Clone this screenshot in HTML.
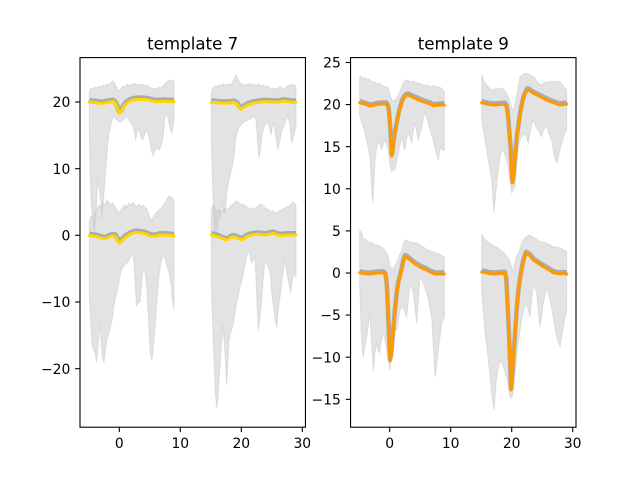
<!DOCTYPE html>
<html><head><meta charset="utf-8"><style>
html,body{margin:0;padding:0;background:#fff;}
svg{display:block;}
text{font-family:"DejaVu Sans","Liberation Sans",sans-serif;fill:#000;}
.lb{fill:#c8c8c8;fill-opacity:0.5;stroke:#c8c8c8;stroke-opacity:0.5;stroke-width:1;stroke-linejoin:round;}
.db{fill:none;stroke:#aaaaaa;stroke-width:5;stroke-linejoin:round;stroke-linecap:butt;}
.my{fill:none;stroke:#ffd700;stroke-width:3;stroke-linejoin:round;stroke-linecap:round;}
.mo{fill:none;stroke:#ff9900;stroke-width:3;stroke-linejoin:round;stroke-linecap:round;}
.tk{stroke:#000;stroke-width:1.1;}
.yt{font-size:13.9px;text-anchor:end;}
.xt{font-size:13.9px;text-anchor:middle;}
.ti{font-size:16.67px;text-anchor:middle;}
</style></head><body>
<svg width="640" height="480" viewBox="0 0 640 480" xmlns="http://www.w3.org/2000/svg">
<rect width="640" height="480" fill="#fff"/>

<!-- LEFT PLOT: template 7 -->
<polygon class="lb" points="89.3,92 91,88 93,89 95,87 97,88 99,86 101,87 103,85 105,86 107,84 109,85 111,83 113,81 115,84 117,88 119,91 121,88 123,86 125,87 127,84 129,86 131,84 133,85 135,83 137,85 139,84 141,86 143,84 145,86 147,85 149,87 151,88 153,89 155,88 157,89 159,87 161,88 163,86 165,84 167,82 169,80 171,81 173,80 174,82 174,120 172,133 170,128 168,118 166.5,113 165,118 163,138 161,146 159,150 157,148 155,150 153,156 151,148 149,137 147,130 145,133 143,140 141,137 139,128 137,133 135.5,140 134,130 132,124 130,122 128,118 126,117 124,119 122,121 120,122 118,121 116,119 114,116 112,120 110,128 108,140 106.5,160 105,180 103.5,200 102,218 101,205 99.5,190 98,178 97,195 96,215 94.5,232 93,225 92,215 91,200 90,165 89.3,130"/>
<polygon class="lb" points="89.3,221 91,216 93,218 95,212 97,210 99,205 101,207 103,203 105,205 107,200 109,203 111,205 113,203 115,207 117,210 119,213 121,210 123,207 125,205 127,207 129,203 131,205 133,202 135,205 137,207 139,204 141,207 143,205 145,208 147,209 149,215 151,221 153,218 155,214 157,212 159,210 161,208 163,206 165,203 167,199 169,196 171,197 173,199 174,203 174,310 172.5,300 171,285 169,272 167,266 165,258 163,255 161,262 159,275 157,300 155.5,320 154,340 152,360 150.5,355 149,330 147,290 145,272 143,270 141.5,285 140,302 138,303 136.5,306 135,280 133.5,255 132,256 130,258 128,262 126,263 124,266 122,268 120,276 118,288 116,295 114,305 112,320 110,328 108.5,336 107,338 105.5,350 104,362 102.5,358 101,340 99.5,322 98,345 96.5,362 95,352 93.5,350 92,345 90.5,320 89.3,296"/>
<polygon class="lb" points="211.3,92 213,88 215,86 217,87 219,85 221,86 223,84 225,85 227,84 229,85 231,84 233,82 235,77 236.5,75 238,79 240,83 242,84 244,86 246,84 248,85 250,83 252,85 254,84 256,86 258,84 260,85 262,86 264,85 266,87 268,86 270,88 272,89 274,88 276,89 278,88 280,87 282,88 284,89 286,87 288,86 290,85 292,84 294,85 296,86 296,128 295,130 293,138 291.5,143 290,125 288,116 286,120 284,126 282,130 280,140 278,150 276,138 274,123 272.5,126 271,135 269.5,128 268,121 266,124 264,127 262,135 260.5,150 259,158 257.5,140 256,120 254,116 252,118 250,119 248,120 246,121 244,122 242,124 240,126 238,130 236,137 234,155 232,168 230,175 228,185 226.5,195 225,213 223.5,212 222,200 220.5,220 219,205 217.5,235 216,218 215,240 214,225 212.5,180 211.3,140"/>
<polygon class="lb" points="211.3,210 213,205 215,208 217,212 219,210 221,212 223,210 225,208 227,210 229,208 231,206 233,204 235,202 237,201 239,203 241,205 243,204 245,206 247,207 249,209 251,208 253,210 255,208 257,207 259,205 261,204 263,206 265,208 267,209 269,210 271,212 273,211 275,213 277,213 279,211 281,210 283,209 285,208 287,207 289,206 291,204 293,202 294.5,203 296,206 296,277 294.5,275 293.3,273 292,283 290.7,292 289.5,286 288.3,280 286.5,270 285,260 284,265 282,280 280,297 278,312 276.7,327 275,318 273.5,307 272,295 270.5,275 269,268 267,265 265,260 263,280 261.7,300 260,318 258.3,330 256.5,290 255,257 253.5,260 251.7,263 250,255 248.5,250 247,255 245,265 243.5,273 242,280 240,287 238.5,294 236.7,303 235,312 233.5,323 232,328 230.5,333 229,340 228,360 226.7,385 225.5,360 224.5,345 223,325 221.5,345 220,365 219,380 218,397 216.7,408 215.5,395 214,360 212.5,320 211.3,280"/>

<g transform="translate(0,-1.5)">
<polyline class="db" points="89.3,102 92,102.5 95,102.3 98,103 101,103.5 104,103.3 107,102.5 110,102 113,101.5 115,103 117,107 118.5,111.5 119.5,113.5 121,112 123,108 125,105 127,103 130,101 133,100 136,99.5 140,99.3 144,99.5 148,100 152,101 156,101.7 160,101.5 164,101.3 168,101.7 171,101.5 174,101.7"/>
<polyline class="db" points="89.3,235.5 92,236 95,236.5 98,237 101,238 104,239 106,238.5 109,237 112,236 115,236 117,239 118.5,242 119.5,243.3 121,242 123,239.5 126,237 129,235 132,233.5 135,232.5 138,232.5 141,233 144,233.5 147,234.5 150,236 153,236.5 156,236 160,235 164,235 168,235.3 171,235.5 174,236"/>
<polyline class="db" points="211.3,102.3 215,102.5 220,103 225,103.3 230,103 234,102.5 237,104 239,107.5 240.5,109.3 242,108.5 245,106.5 249,104.5 253,103.3 258,102.3 263,101.7 268,101.7 272,102 276,102.3 280,102 283,101 286,101.5 290,102 293,102.3 296,102.3"/>
<polyline class="db" points="211.3,235 214,235.5 217,236.5 220,237.7 223,239 226.7,240 229,239 231,237.5 233.3,236.7 236,237.5 239,239 241.7,240 244,238.5 246.7,236.7 250,235.5 253,234.8 256.7,234.3 260,234.5 263,235 266.7,235 270,234 273.3,233.3 276,234.5 280,235.7 284,235.3 288,235 292,235 296,235"/>
</g>
<polyline class="my" points="89.3,102 92,102.5 95,102.3 98,103 101,103.5 104,103.3 107,102.5 110,102 113,101.5 115,103 117,107 118.5,111.5 119.5,113.5 121,112 123,108 125,105 127,103 130,101 133,100 136,99.5 140,99.3 144,99.5 148,100 152,101 156,101.7 160,101.5 164,101.3 168,101.7 171,101.5 174,101.7"/>
<polyline class="my" points="89.3,235.5 92,236 95,236.5 98,237 101,238 104,239 106,238.5 109,237 112,236 115,236 117,239 118.5,242 119.5,243.3 121,242 123,239.5 126,237 129,235 132,233.5 135,232.5 138,232.5 141,233 144,233.5 147,234.5 150,236 153,236.5 156,236 160,235 164,235 168,235.3 171,235.5 174,236"/>
<polyline class="my" points="211.3,102.3 215,102.5 220,103 225,103.3 230,103 234,102.5 237,104 239,107.5 240.5,109.3 242,108.5 245,106.5 249,104.5 253,103.3 258,102.3 263,101.7 268,101.7 272,102 276,102.3 280,102 283,101 286,101.5 290,102 293,102.3 296,102.3"/>
<polyline class="my" points="211.3,235 214,235.5 217,236.5 220,237.7 223,239 226.7,240 229,239 231,237.5 233.3,236.7 236,237.5 239,239 241.7,240 244,238.5 246.7,236.7 250,235.5 253,234.8 256.7,234.3 260,234.5 263,235 266.7,235 270,234 273.3,233.3 276,234.5 280,235.7 284,235.3 288,235 292,235 296,235"/>

<rect x="80" y="57.6" width="225.45" height="369.6" fill="none" stroke="#000" stroke-width="1.1"/>
<g class="tk">
<line x1="75.1" y1="102" x2="80" y2="102"/>
<line x1="75.1" y1="168.7" x2="80" y2="168.7"/>
<line x1="75.1" y1="235.3" x2="80" y2="235.3"/>
<line x1="75.1" y1="302" x2="80" y2="302"/>
<line x1="75.1" y1="368.7" x2="80" y2="368.7"/>
<line x1="119.3" y1="427.2" x2="119.3" y2="432.1"/>
<line x1="180.3" y1="427.2" x2="180.3" y2="432.1"/>
<line x1="241.3" y1="427.2" x2="241.3" y2="432.1"/>
<line x1="302.3" y1="427.2" x2="302.3" y2="432.1"/>
</g>
<text class="yt" x="70.3" y="107.1">20</text>
<text class="yt" x="70.3" y="173.8">10</text>
<text class="yt" x="70.3" y="240.4">0</text>
<text class="yt" x="70.3" y="307.1">−10</text>
<text class="yt" x="70.3" y="373.8">−20</text>
<text class="xt" x="119.3" y="448">0</text>
<text class="xt" x="180.3" y="448">10</text>
<text class="xt" x="241.3" y="448">20</text>
<text class="xt" x="302.3" y="448">30</text>
<text class="ti" x="192.7" y="49.3">template 7</text>

<!-- RIGHT PLOT: template 9 -->
<polygon class="lb" points="359.7,77 361,76 363,79 365,78 367,80 369,79 371,81 373,82 375,82 377,84 379,83 381,85 383,86 385,87 387,87 388.5,89 390,95 392,100 394,101 396,99 398,96 400,92 401.5,88 403,83 405,81 407,80 409,81 411,82 413,81 415,82 417,83 419,83 421,84 423,85 425,86 427,85 429,86 431,87 433,86 435,86 437,87 439,87 441,88 443,90 444.3,91 444.3,150 442.3,150 440.7,147 439.5,152 438.3,160 436.7,155 435,148 433.3,140 431.7,135 430,130 428.3,123 426.7,118 425,112 423.3,118 421.7,128 420,133 418.3,140 416.7,132 415,123 413.3,130 411.7,143 410,138 408.3,132 406.7,138 405,150 403.3,145 401.7,137 400,145 398.3,153 396.7,160 395,170 393.3,168 391.7,172 390,165 388.3,150 386.7,145 385,140 383.3,144 381.7,150 380,145 378.3,140 376.7,148 375,160 374,180 372.7,203 371.5,185 370,157 368.3,148 366.7,140 365,133 363.3,127 361.5,122 359.7,115"/>
<polygon class="lb" points="481.7,75 483,79 485,83 487,85 489,88 491,89 493,90 495,89 497,88 499,89 501,88 503,89 505,91 507,94 508.5,97 510,102 511.5,108 513,110 515,104 517,95 518.5,85 520,77 522,75 524,74 526,73 528,74 530,75 532,76 534,77 536,80 538,83 540,85 542,84 544,83 546,82 548,82 550,82 552,81 554,82 556,82 558,81 560,82 562,84 564,87 566.7,90 566.7,130 565,133 563.3,138 561.7,143 560,150 558.3,157 556.7,163 555,158 553.3,150 551.7,140 550,136 548.3,132 546.7,127 545,128 543.3,130 541.7,137 540,134 538.3,130 536.7,128 535,125 533.3,120 531.7,125 530,133 528.3,143 526.7,138 525,133 523.3,135 521.7,137 520,140 518.3,147 516.7,165 515,187 513.3,190 511.7,193 510,180 508.3,167 506.7,160 505,155 503.3,150 501.7,152 500,157 498.3,170 496.7,183 495.3,198 494,213 493,200 491.7,180 490,170 488.3,160 486.7,150 485,140 483,128 481.7,117"/>
<polygon class="lb" points="359.7,230 361.5,233 363.3,240 365,239 367,241 369,243 371,242 373,244 375,245 377,245 379,246 381,247 383,248 385,251 386.7,253 388.3,257 390,265 391.7,270 393.3,268 395,265 396.7,263 398.3,258 400,254 401.7,251 403.3,243 405,241 406.7,240 408.3,241 410,242 412,242 414,243 416.7,243 419,244 421,246 423,247 425,248 427,250 429,250 431,251 433,252 435,253 437,253 439,254 441,255 444.3,257 444.3,317 443,320 441.7,323 440,337 438.3,350 436.7,365 435,377 433.3,345 431.7,317 430,308 428.3,300 426.7,293 425,288 423.3,283 421.7,280 420,277 418.3,300 416.7,323 415,308 413.3,293 411.7,288 410,283 408.3,300 406.7,317 405,312 403.3,306.7 401.7,307 400,310 398.3,320 396.7,330 395,331 393.3,333 391.7,352 390,370 388.3,360 386.7,350 385,340 383.3,333 381,343 379.3,353 378,350 376.7,343 375,352 373.3,370 371.7,345 370,315 368.3,325 366.7,337 365,345 363.3,357 361.7,343 360.7,315 359.7,283"/>
<polygon class="lb" points="481.7,235 484,238 486,241 488,242 490,243.3 492,245 494,246 496,247 498,248 500,250 502,251 504,253 506.7,256.7 508.3,258 510,262 512,268 513.3,272 515,262 517,256 518.5,253 520,250 521.7,243 523.3,240 525,238 527,236 530,235 533,237 536,239 540,241.7 543,242 546,243 550,245 553.3,246.7 556,247 559,248 562,249 564,250 566.7,251.7 566.7,310 565,318 563.3,327 561.7,337 560,347 558.3,342 556.7,337 555,327 553.3,317 551.7,308 550,300 548.3,293 546.7,287 545,295 543.3,303 541.7,315 540,327 538.3,310 536.7,293 535,288 533.3,283 531.7,300 530,317 528.3,310 526.7,303 525,306 523.3,310 521.7,320 520,330 518.3,343 516.7,357 515,373 513.3,392 511.7,398 510,397 508.3,387 506.7,377 505,372 503.3,367 501.7,363 500,360 498.3,368 496.7,377 495.3,392 494,410 492.8,402 491.7,393 490,375 488.3,360 486.7,345 485,333 483.3,312 481.7,290"/>

<g transform="translate(0,-1.5)">
<polyline class="db" style="stroke-width:4.5" points="359.7,102.7 363,103.5 367,105 370,106 373,105.5 377,104.5 380,104.3 384,104 386.5,104 388,107 389,113 390,125 391,143 391.7,156 392.5,152 393.5,143 395,133 396.7,124 398.5,115 400,109 402,102 404,98 406,95.5 408,95 410,96 413,97.3 417,99 420,100.5 423,101.7 427,103 430,104 433,105.7 436,105.5 440,105 444.3,105"/>
<polyline class="db" style="stroke-width:4.5" points="481.7,102.7 485,103.5 489,104.5 493.3,105 497,104.8 501,104.5 505,104.3 506.5,107 507.5,112 508.5,122 509.5,135 510.7,150 511.5,168 512.3,183 513.3,178 514.3,167 515.5,152 516.8,138 518.3,127 520,115 521.7,106 523.3,99 525,94 527.3,90 529.5,90.5 531.5,92 533.3,93.3 537,95 540,96.5 543.3,98.3 547,100 550,101.5 553.3,102.7 557,104 560,105 563,104.5 566.7,104"/>
<polyline class="db" style="stroke-width:4.5" points="359.7,272.7 363,273.5 367,274 370,274 374,273.5 378,273 383.3,272.7 385.5,275 386.7,285 387.5,300 388.3,320 389.2,342 390,361 390.8,358 391.7,350 393.3,330 395,310 396.7,294 398.3,283 400,276.7 402,268 403.5,261 405,256.7 407,257.5 410,260 413,262.5 416.7,265 420,267 423,268.5 426.7,270 430,272 435,274 440,274 444.3,274"/>
<polyline class="db" style="stroke-width:4.5" points="481.7,272 485,272.5 489,273.5 493.3,274 497,273.8 501,273.5 505,273.3 506.3,280 507.3,300 508.3,320 509.3,343 510.2,367 511,390 512,380 513.3,360 515,335 516.7,310 518.3,293 520,280 521.7,270 523.5,261 526,253.3 528.5,254.5 531,257 533.3,260 537,262.5 540,264.5 543.3,266.7 547,268.5 550,270.5 553.3,272.7 557,273.5 560,274 563,273.5 566.7,274"/>
</g>
<polyline class="mo" points="359.7,102.7 363,103.5 367,105 370,106 373,105.5 377,104.5 380,104.3 384,104 386.5,104 388,107 389,113 390,125 391,143 391.7,156 392.5,152 393.5,143 395,133 396.7,124 398.5,115 400,109 402,102 404,98 406,95.5 408,95 410,96 413,97.3 417,99 420,100.5 423,101.7 427,103 430,104 433,105.7 436,105.5 440,105 444.3,105"/>
<polyline class="mo" points="481.7,102.7 485,103.5 489,104.5 493.3,105 497,104.8 501,104.5 505,104.3 506.5,107 507.5,112 508.5,122 509.5,135 510.7,150 511.5,168 512.3,183 513.3,178 514.3,167 515.5,152 516.8,138 518.3,127 520,115 521.7,106 523.3,99 525,94 527.3,90 529.5,90.5 531.5,92 533.3,93.3 537,95 540,96.5 543.3,98.3 547,100 550,101.5 553.3,102.7 557,104 560,105 563,104.5 566.7,104"/>
<polyline class="mo" points="359.7,272.7 363,273.5 367,274 370,274 374,273.5 378,273 383.3,272.7 385.5,275 386.7,285 387.5,300 388.3,320 389.2,342 390,361 390.8,358 391.7,350 393.3,330 395,310 396.7,294 398.3,283 400,276.7 402,268 403.5,261 405,256.7 407,257.5 410,260 413,262.5 416.7,265 420,267 423,268.5 426.7,270 430,272 435,274 440,274 444.3,274"/>
<polyline class="mo" points="481.7,272 485,272.5 489,273.5 493.3,274 497,273.8 501,273.5 505,273.3 506.3,280 507.3,300 508.3,320 509.3,343 510.2,367 511,390 512,380 513.3,360 515,335 516.7,310 518.3,293 520,280 521.7,270 523.5,261 526,253.3 528.5,254.5 531,257 533.3,260 537,262.5 540,264.5 543.3,266.7 547,268.5 550,270.5 553.3,272.7 557,273.5 560,274 563,273.5 566.7,274"/>

<rect x="350.55" y="57.6" width="225.45" height="369.6" fill="none" stroke="#000" stroke-width="1.1"/>
<g class="tk">
<line x1="345.7" y1="62.5" x2="350.55" y2="62.5"/>
<line x1="345.7" y1="104.6" x2="350.55" y2="104.6"/>
<line x1="345.7" y1="146.7" x2="350.55" y2="146.7"/>
<line x1="345.7" y1="188.8" x2="350.55" y2="188.8"/>
<line x1="345.7" y1="230.9" x2="350.55" y2="230.9"/>
<line x1="345.7" y1="273" x2="350.55" y2="273"/>
<line x1="345.7" y1="315.1" x2="350.55" y2="315.1"/>
<line x1="345.7" y1="357.2" x2="350.55" y2="357.2"/>
<line x1="345.7" y1="399.3" x2="350.55" y2="399.3"/>
<line x1="389.7" y1="427.2" x2="389.7" y2="432.1"/>
<line x1="450.7" y1="427.2" x2="450.7" y2="432.1"/>
<line x1="511.7" y1="427.2" x2="511.7" y2="432.1"/>
<line x1="572.7" y1="427.2" x2="572.7" y2="432.1"/>
</g>
<text class="yt" x="340.8" y="67.6">25</text>
<text class="yt" x="340.8" y="109.7">20</text>
<text class="yt" x="340.8" y="151.8">15</text>
<text class="yt" x="340.8" y="193.9">10</text>
<text class="yt" x="340.8" y="236">5</text>
<text class="yt" x="340.8" y="278.1">0</text>
<text class="yt" x="340.8" y="320.2">−5</text>
<text class="yt" x="340.8" y="362.3">−10</text>
<text class="yt" x="340.8" y="404.4">−15</text>
<text class="xt" x="389.7" y="448">0</text>
<text class="xt" x="450.7" y="448">10</text>
<text class="xt" x="511.7" y="448">20</text>
<text class="xt" x="572.7" y="448">30</text>
<text class="ti" x="463.3" y="49.3">template 9</text>
</svg>
</body></html>
